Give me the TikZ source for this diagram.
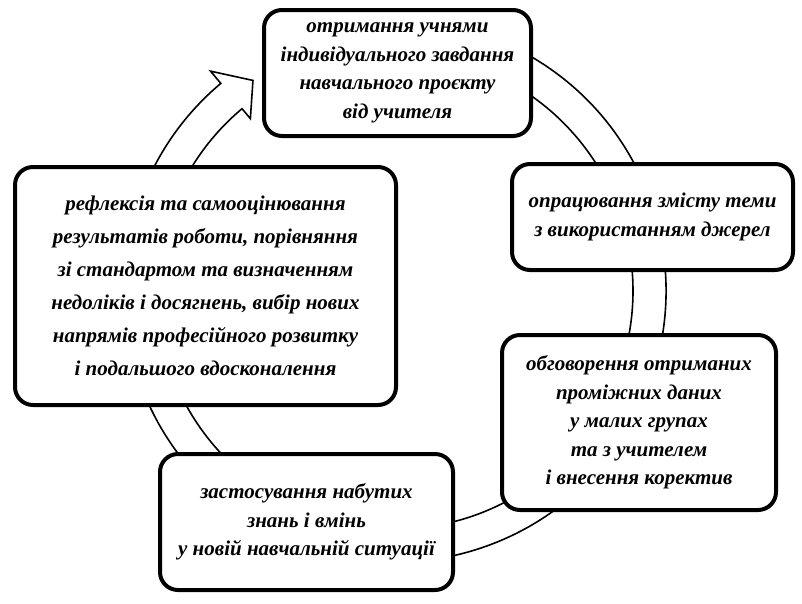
\documentclass[tikz,border=0pt]{standalone}
\usepackage{fontspec}
\setmainfont{Liberation Serif}
\usetikzlibrary{positioning}
\tikzset{
  stage/.style={draw=black, line width=4pt, fill=white, rounded corners=18pt,
    align=center, inner sep=0pt,
    font=\fontsize{21}{28.5}\selectfont\bfseries\itshape},
  cycleband/.style={draw=black, line width=1.6pt, fill=white}
}
\begin{document}
\begin{tikzpicture}[x=1pt,y=-1pt]
\useasboundingbox (0,0) rectangle (802,603);
% circular arrow behind the stages
\begin{scope}[shift={(395,291)}]
  \draw[cycleband] (-110:271) arc[start angle=-110,end angle=230,radius=271]
    -- (230:287) -- (236:254) -- (230:225) -- (230:238)
    arc[start angle=230,end angle=-110,radius=238] -- cycle;
\end{scope}
% stages
\node[stage, minimum width=267pt, minimum height=126pt] (obtain) at (397.5,73)
  {отримання учнями\\індивідуального завдання\\навчального проєкту\\від учителя};
\node[stage, minimum width=281pt, minimum height=106pt] (study) at (652.5,217)
  {опрацювання змісту теми\\з використанням джерел};
\node[stage, minimum width=274pt, minimum height=175pt] (discuss) at (639,422.5)
  {обговорення отриманих\\проміжних даних\\у малих групах\\та з учителем\\і внесення коректив};
\node[stage, minimum width=293pt, minimum height=136pt] (apply) at (306.5,522)
  {застосування набутих\\знань і вмінь\\у новій навчальній ситуації};
\node[stage, minimum width=381pt, minimum height=238pt,
  font=\fontsize{21}{33}\selectfont\bfseries\itshape] (reflect) at (205.5,286)
  {рефлексія та самооцінювання\\результатів роботи, порівняння\\зі стандартом та визначенням\\недоліків і досягнень, вибір нових\\напрямів професійного розвитку\\і подальшого вдосконалення};
\end{tikzpicture}
\end{document}
